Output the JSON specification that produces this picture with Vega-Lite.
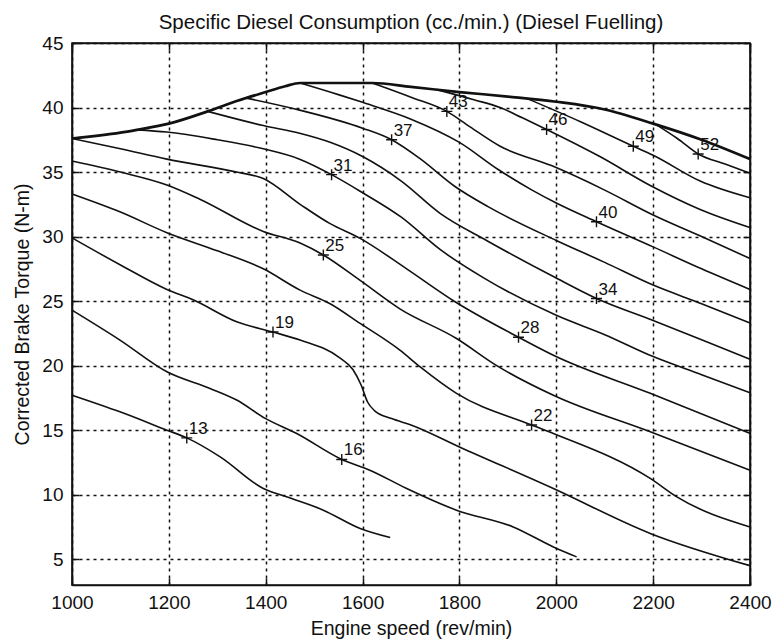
{
  "$schema": "https://vega.github.io/schema/vega-lite/v6.json",
  "width": 678,
  "height": 542,
  "autosize": {"type": "none"},
  "padding": {"left": 72, "top": 43, "right": 23, "bottom": 59},
  "background": "white",
  "title": {
    "text": "Specific Diesel Consumption (cc./min.) (Diesel Fuelling)",
    "font": "Liberation Sans",
    "fontSize": 20.5,
    "fontWeight": "normal",
    "color": "#111",
    "anchor": "middle",
    "offset": 1
  },
  "config": {
    "view": {"stroke": "#111", "strokeWidth": 1.6},
    "axis": {
      "labelFont": "Liberation Sans",
      "labelFontSize": 19,
      "labelColor": "#111",
      "titleFont": "Liberation Sans",
      "titleFontSize": 19.5,
      "titleFontWeight": "normal",
      "titleColor": "#111",
      "domainColor": "#111",
      "domainWidth": 1.6,
      "tickColor": "#111",
      "tickWidth": 1.5,
      "tickSize": -7,
      "gridColor": "#111",
      "gridWidth": 1.5,
      "gridDash": [3, 4],
      "gridOpacity": 1
    }
  },
  "datasets": {
    "contours": [
      {"lvl": 13, "rpm": 1000, "tq": 17.71}, {"lvl": 13, "rpm": 1099, "tq": 16.42}, {"lvl": 13, "rpm": 1196, "tq": 15.0}, {"lvl": 13, "rpm": 1237, "tq": 14.4}, {"lvl": 13, "rpm": 1306, "tq": 12.93}, {"lvl": 13, "rpm": 1395, "tq": 10.48}, {"lvl": 13, "rpm": 1443, "tq": 9.83}, {"lvl": 13, "rpm": 1519, "tq": 8.8}, {"lvl": 13, "rpm": 1595, "tq": 7.38}, {"lvl": 13, "rpm": 1657, "tq": 6.68},

      {"lvl": 16, "rpm": 1000, "tq": 24.3}, {"lvl": 16, "rpm": 1099, "tq": 21.98}, {"lvl": 16, "rpm": 1196, "tq": 19.52}, {"lvl": 16, "rpm": 1285, "tq": 18.23}, {"lvl": 16, "rpm": 1340, "tq": 17.33}, {"lvl": 16, "rpm": 1399, "tq": 15.91}, {"lvl": 16, "rpm": 1464, "tq": 14.74}, {"lvl": 16, "rpm": 1557, "tq": 12.73}, {"lvl": 16, "rpm": 1615, "tq": 11.9}, {"lvl": 16, "rpm": 1690, "tq": 10.5}, {"lvl": 16, "rpm": 1794, "tq": 8.8}, {"lvl": 16, "rpm": 1911, "tq": 7.5}, {"lvl": 16, "rpm": 1994, "tq": 5.95}, {"lvl": 16, "rpm": 2042, "tq": 5.18},

      {"lvl": 19, "rpm": 1000, "tq": 29.9}, {"lvl": 19, "rpm": 1100, "tq": 27.8}, {"lvl": 19, "rpm": 1196, "tq": 25.9}, {"lvl": 19, "rpm": 1250, "tq": 25.1}, {"lvl": 19, "rpm": 1340, "tq": 23.4}, {"lvl": 19, "rpm": 1415, "tq": 22.6}, {"lvl": 19, "rpm": 1471, "tq": 21.98}, {"lvl": 19, "rpm": 1553, "tq": 20.6}, {"lvl": 19, "rpm": 1580, "tq": 19.7}, {"lvl": 19, "rpm": 1597, "tq": 18.5}, {"lvl": 19, "rpm": 1610, "tq": 17.2}, {"lvl": 19, "rpm": 1625, "tq": 16.5}, {"lvl": 19, "rpm": 1660, "tq": 15.9}, {"lvl": 19, "rpm": 1700, "tq": 15.4}, {"lvl": 19, "rpm": 1800, "tq": 13.7}, {"lvl": 19, "rpm": 1994, "tq": 10.48}, {"lvl": 19, "rpm": 2194, "tq": 7.0}, {"lvl": 19, "rpm": 2400, "tq": 4.5},

      {"lvl": 22, "rpm": 1000, "tq": 33.3}, {"lvl": 22, "rpm": 1100, "tq": 31.9}, {"lvl": 22, "rpm": 1196, "tq": 30.3}, {"lvl": 22, "rpm": 1300, "tq": 28.9}, {"lvl": 22, "rpm": 1395, "tq": 27.5}, {"lvl": 22, "rpm": 1471, "tq": 25.85}, {"lvl": 22, "rpm": 1533, "tq": 24.8}, {"lvl": 22, "rpm": 1595, "tq": 23.27}, {"lvl": 22, "rpm": 1677, "tq": 21.2}, {"lvl": 22, "rpm": 1719, "tq": 19.9}, {"lvl": 22, "rpm": 1794, "tq": 17.85}, {"lvl": 22, "rpm": 1949, "tq": 15.4}, {"lvl": 22, "rpm": 1994, "tq": 14.74}, {"lvl": 22, "rpm": 2194, "tq": 11.26}, {"lvl": 22, "rpm": 2249, "tq": 9.83}, {"lvl": 22, "rpm": 2400, "tq": 7.5},

      {"lvl": 25, "rpm": 1000, "tq": 35.85}, {"lvl": 25, "rpm": 1100, "tq": 35.0}, {"lvl": 25, "rpm": 1196, "tq": 34.0}, {"lvl": 25, "rpm": 1264, "tq": 32.9}, {"lvl": 25, "rpm": 1395, "tq": 30.4}, {"lvl": 25, "rpm": 1471, "tq": 29.5}, {"lvl": 25, "rpm": 1519, "tq": 28.57}, {"lvl": 25, "rpm": 1595, "tq": 26.6}, {"lvl": 25, "rpm": 1677, "tq": 24.4}, {"lvl": 25, "rpm": 1794, "tq": 22.1}, {"lvl": 25, "rpm": 1877, "tq": 20.0}, {"lvl": 25, "rpm": 1994, "tq": 17.7}, {"lvl": 25, "rpm": 2194, "tq": 14.87}, {"lvl": 25, "rpm": 2400, "tq": 11.9},

      {"lvl": 28, "rpm": 1000, "tq": 37.6}, {"lvl": 28, "rpm": 1100, "tq": 36.8}, {"lvl": 28, "rpm": 1196, "tq": 36.0}, {"lvl": 28, "rpm": 1340, "tq": 35.0}, {"lvl": 28, "rpm": 1395, "tq": 34.5}, {"lvl": 28, "rpm": 1471, "tq": 32.5}, {"lvl": 28, "rpm": 1533, "tq": 31.0}, {"lvl": 28, "rpm": 1595, "tq": 29.86}, {"lvl": 28, "rpm": 1691, "tq": 27.5}, {"lvl": 28, "rpm": 1791, "tq": 24.95}, {"lvl": 28, "rpm": 1922, "tq": 22.2}, {"lvl": 28, "rpm": 1994, "tq": 20.8}, {"lvl": 28, "rpm": 2194, "tq": 17.85}, {"lvl": 28, "rpm": 2400, "tq": 14.74},

      {"lvl": 31, "rpm": 1134, "tq": 38.27}, {"lvl": 31, "rpm": 1196, "tq": 38.1}, {"lvl": 31, "rpm": 1300, "tq": 37.5}, {"lvl": 31, "rpm": 1395, "tq": 36.8}, {"lvl": 31, "rpm": 1470, "tq": 36.0}, {"lvl": 31, "rpm": 1536, "tq": 34.8}, {"lvl": 31, "rpm": 1600, "tq": 33.4}, {"lvl": 31, "rpm": 1680, "tq": 31.5}, {"lvl": 31, "rpm": 1760, "tq": 29.0}, {"lvl": 31, "rpm": 1850, "tq": 26.8}, {"lvl": 31, "rpm": 2000, "tq": 23.9}, {"lvl": 31, "rpm": 2100, "tq": 22.4}, {"lvl": 31, "rpm": 2200, "tq": 20.7}, {"lvl": 31, "rpm": 2300, "tq": 19.3}, {"lvl": 31, "rpm": 2400, "tq": 17.9},

      {"lvl": 34, "rpm": 1280, "tq": 39.7}, {"lvl": 34, "rpm": 1395, "tq": 38.6}, {"lvl": 34, "rpm": 1470, "tq": 38.0}, {"lvl": 34, "rpm": 1533, "tq": 37.3}, {"lvl": 34, "rpm": 1600, "tq": 36.2}, {"lvl": 34, "rpm": 1680, "tq": 34.3}, {"lvl": 34, "rpm": 1760, "tq": 31.8}, {"lvl": 34, "rpm": 1856, "tq": 29.7}, {"lvl": 34, "rpm": 1994, "tq": 26.9}, {"lvl": 34, "rpm": 2083, "tq": 25.2}, {"lvl": 34, "rpm": 2200, "tq": 23.5}, {"lvl": 34, "rpm": 2300, "tq": 22.0}, {"lvl": 34, "rpm": 2400, "tq": 20.5},

      {"lvl": 37, "rpm": 1360, "tq": 40.73}, {"lvl": 37, "rpm": 1470, "tq": 39.8}, {"lvl": 37, "rpm": 1600, "tq": 38.4}, {"lvl": 37, "rpm": 1660, "tq": 37.5}, {"lvl": 37, "rpm": 1720, "tq": 36.0}, {"lvl": 37, "rpm": 1790, "tq": 33.9}, {"lvl": 37, "rpm": 1860, "tq": 32.3}, {"lvl": 37, "rpm": 2000, "tq": 29.7}, {"lvl": 37, "rpm": 2100, "tq": 28.0}, {"lvl": 37, "rpm": 2200, "tq": 26.24}, {"lvl": 37, "rpm": 2300, "tq": 24.8}, {"lvl": 37, "rpm": 2400, "tq": 23.3},

      {"lvl": 40, "rpm": 1471, "tq": 41.9}, {"lvl": 40, "rpm": 1550, "tq": 41.0}, {"lvl": 40, "rpm": 1600, "tq": 40.4}, {"lvl": 40, "rpm": 1700, "tq": 39.1}, {"lvl": 40, "rpm": 1800, "tq": 37.3}, {"lvl": 40, "rpm": 1880, "tq": 35.2}, {"lvl": 40, "rpm": 1950, "tq": 33.6}, {"lvl": 40, "rpm": 2000, "tq": 32.6}, {"lvl": 40, "rpm": 2083, "tq": 31.15}, {"lvl": 40, "rpm": 2200, "tq": 29.2}, {"lvl": 40, "rpm": 2300, "tq": 27.5}, {"lvl": 40, "rpm": 2400, "tq": 25.9},

      {"lvl": 43, "rpm": 1620, "tq": 41.9}, {"lvl": 43, "rpm": 1700, "tq": 40.8}, {"lvl": 43, "rpm": 1774, "tq": 39.7}, {"lvl": 43, "rpm": 1822, "tq": 38.5}, {"lvl": 43, "rpm": 1884, "tq": 37.0}, {"lvl": 43, "rpm": 1990, "tq": 35.5}, {"lvl": 43, "rpm": 2100, "tq": 33.6}, {"lvl": 43, "rpm": 2200, "tq": 31.67}, {"lvl": 43, "rpm": 2300, "tq": 30.0}, {"lvl": 43, "rpm": 2400, "tq": 28.3},

      {"lvl": 46, "rpm": 1753, "tq": 41.39}, {"lvl": 46, "rpm": 1830, "tq": 40.6}, {"lvl": 46, "rpm": 1884, "tq": 40.0}, {"lvl": 46, "rpm": 1930, "tq": 39.2}, {"lvl": 46, "rpm": 1980, "tq": 38.3}, {"lvl": 46, "rpm": 2090, "tq": 36.2}, {"lvl": 46, "rpm": 2197, "tq": 33.9}, {"lvl": 46, "rpm": 2297, "tq": 32.1}, {"lvl": 46, "rpm": 2400, "tq": 30.7},

      {"lvl": 49, "rpm": 1940, "tq": 40.69}, {"lvl": 49, "rpm": 2050, "tq": 38.9}, {"lvl": 49, "rpm": 2159, "tq": 37.0}, {"lvl": 49, "rpm": 2200, "tq": 36.3}, {"lvl": 49, "rpm": 2297, "tq": 34.3}, {"lvl": 49, "rpm": 2400, "tq": 33.0},

      {"lvl": 52, "rpm": 2207, "tq": 38.66}, {"lvl": 52, "rpm": 2250, "tq": 37.6}, {"lvl": 52, "rpm": 2293, "tq": 36.4}, {"lvl": 52, "rpm": 2350, "tq": 35.6}, {"lvl": 52, "rpm": 2400, "tq": 34.9}
    ],
    "boundary": [
      {"rpm": 1000, "tq": 37.6}, {"rpm": 1100, "tq": 38.05}, {"rpm": 1134, "tq": 38.27}, {"rpm": 1200, "tq": 38.75}, {"rpm": 1280, "tq": 39.7}, {"rpm": 1340, "tq": 40.5}, {"rpm": 1400, "tq": 41.2}, {"rpm": 1440, "tq": 41.65}, {"rpm": 1471, "tq": 41.9}, {"rpm": 1620, "tq": 41.9}, {"rpm": 1700, "tq": 41.6}, {"rpm": 1800, "tq": 41.2}, {"rpm": 1900, "tq": 40.85}, {"rpm": 2000, "tq": 40.45}, {"rpm": 2100, "tq": 39.85}, {"rpm": 2200, "tq": 38.75}, {"rpm": 2300, "tq": 37.5}, {"rpm": 2400, "tq": 36.0}
    ],
    "labels": [
      {"lvl": "13", "rpm": 1237, "tq": 14.4}, {"lvl": "16", "rpm": 1557, "tq": 12.73}, {"lvl": "19", "rpm": 1415, "tq": 22.6}, {"lvl": "22", "rpm": 1949, "tq": 15.4}, {"lvl": "25", "rpm": 1519, "tq": 28.57}, {"lvl": "28", "rpm": 1922, "tq": 22.2}, {"lvl": "31", "rpm": 1536, "tq": 34.8}, {"lvl": "34", "rpm": 2083, "tq": 25.2}, {"lvl": "37", "rpm": 1660, "tq": 37.5}, {"lvl": "40", "rpm": 2083, "tq": 31.15}, {"lvl": "43", "rpm": 1774, "tq": 39.7}, {"lvl": "46", "rpm": 1980, "tq": 38.3}, {"lvl": "49", "rpm": 2159, "tq": 37.0}, {"lvl": "52", "rpm": 2293, "tq": 36.4}
    ]
  },
  "layer": [
    {
      "data": {"name": "contours"},
      "mark": {"type": "line", "color": "#111", "strokeWidth": 1.6, "interpolate": "monotone"},
      "encoding": {
        "x": {
          "field": "rpm", "type": "quantitative",
          "scale": {"domain": [1000, 2400], "nice": false, "zero": false},
          "axis": {"orient": "bottom", "values": [1000, 1200, 1400, 1600, 1800, 2000, 2200, 2400], "format": "d", "grid": true, "title": "Engine speed (rev/min)", "labelPadding": 15, "titlePadding": 7, "labelFlush": false}
        },
        "y": {
          "field": "tq", "type": "quantitative",
          "scale": {"domain": [3, 45], "nice": false, "zero": false},
          "axis": {"orient": "left", "values": [5, 10, 15, 20, 25, 30, 35, 40, 45], "format": "d", "grid": true, "title": "Corrected Brake Torque (N-m)", "labelPadding": 16, "titlePadding": 9, "labelFlush": false}
        },
        "detail": {"field": "lvl", "type": "nominal"}
      }
    },
    {
      "data": {"name": "boundary"},
      "mark": {"type": "line", "color": "#111", "strokeWidth": 2.7, "interpolate": "monotone"},
      "encoding": {
        "x": {"field": "rpm", "type": "quantitative", "axis": {"orient": "top", "values": [1000, 1200, 1400, 1600, 1800, 2000, 2200, 2400], "labels": false, "grid": false, "title": null}},
        "y": {"field": "tq", "type": "quantitative", "axis": {"orient": "right", "values": [5, 10, 15, 20, 25, 30, 35, 40, 45], "labels": false, "grid": false, "title": null}}
      }
    },
    {
      "data": {"name": "labels"},
      "mark": {"type": "point", "shape": "M-1,0H1M0,-1V1", "size": 121, "filled": false, "stroke": "#111", "strokeWidth": 1.4, "opacity": 1},
      "encoding": {
        "x": {"field": "rpm", "type": "quantitative", "axis": null},
        "y": {"field": "tq", "type": "quantitative", "axis": null}
      }
    },
    {
      "data": {"name": "labels"},
      "mark": {"type": "text", "align": "left", "baseline": "alphabetic", "dx": 2, "dy": -4, "font": "Liberation Sans", "fontSize": 17, "color": "#111"},
      "encoding": {
        "x": {"field": "rpm", "type": "quantitative", "axis": null},
        "y": {"field": "tq", "type": "quantitative", "axis": null},
        "text": {"field": "lvl", "type": "nominal"}
      }
    }
  ],
  "resolve": {"axis": {"x": "independent", "y": "independent"}}
}
